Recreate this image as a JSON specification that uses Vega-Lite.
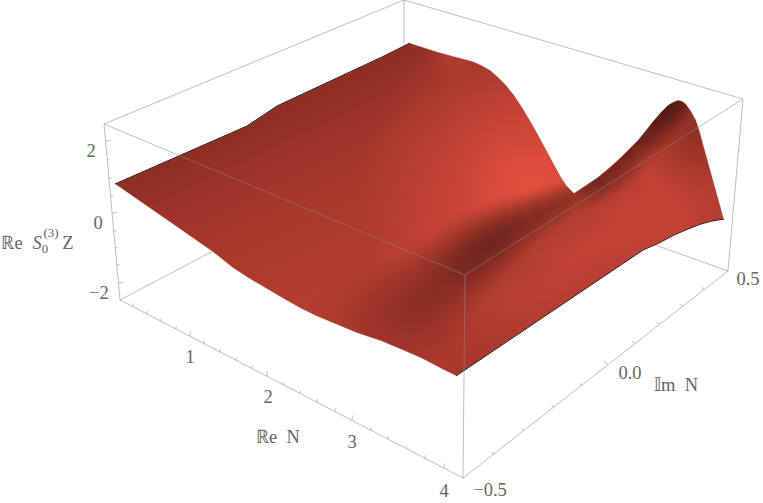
{"$schema":"https://vega.github.io/schema/vega-lite/v6.json","width":763,"height":503,"padding":0,"autosize":{"type":"none"},"background":"white","config":{"view":{"stroke":null}},
"datasets":{
"plane":[{"x":0,"x2":763,"y":0,"y2":503}],
"dark":[
{"x":545,"x2":585,"y":180,"y2":220,"w":0.28},{"x":526,"x2":574,"y":183,"y2":231,"w":0.28},{"x":508,"x2":562,"y":188,"y2":242,"w":0.28},{"x":490,"x2":550,"y":193,"y2":253,"w":0.28},{"x":471,"x2":539,"y":198,"y2":266,"w":0.28},{"x":452,"x2":528,"y":203,"y2":279,"w":0.28},{"x":433,"x2":517,"y":210,"y2":294,"w":0.28},{"x":414,"x2":506,"y":219,"y2":311,"w":0.24},{"x":395,"x2":495,"y":230,"y2":330,"w":0.18},{"x":376,"x2":484,"y":241,"y2":349,"w":0.14},{"x":354,"x2":470,"y":252,"y2":368,"w":0.1},{"x":332,"x2":452,"y":258,"y2":378,"w":0.08},{"x":310,"x2":430,"y":258,"y2":378,"w":0.06},
{"x":480,"x2":580,"y":185,"y2":285,"w":0.12},{"x":520,"x2":600,"y":180,"y2":260,"w":0.14},{"x":552,"x2":628,"y":167,"y2":243,"w":0.12},{"x":445,"x2":555,"y":200,"y2":310,"w":0.12},{"x":585,"x2":655,"y":143,"y2":213,"w":0.12},
{"x":561,"x2":609,"y":164,"y2":212,"w":0.34},{"x":572,"x2":624,"y":154,"y2":206,"w":0.36},{"x":584,"x2":640,"y":139,"y2":195,"w":0.36},{"x":598,"x2":654,"y":125,"y2":181,"w":0.4},{"x":612,"x2":668,"y":110,"y2":166,"w":0.42},{"x":624,"x2":680,"y":96,"y2":152,"w":0.45},{"x":637,"x2":689,"y":85,"y2":137,"w":0.5},{"x":649,"x2":697,"y":79,"y2":127,"w":0.4},{"x":664,"x2":704,"y":84,"y2":124,"w":0.2},{"x":630,"x2":750,"y":70,"y2":190,"w":0.25}
],
"light":[{"x":360,"x2":700,"y":15,"y2":355,"w":0.8},{"x":420,"x2":480,"y":25,"y2":85,"w":0.25},{"x":585,"x2":765,"y":135,"y2":315,"w":0.35}],
"mask":[{"i":0,"x":0,"y":184},{"i":1,"x":0,"y":0},{"i":2,"x":763,"y":0},{"i":3,"x":763,"y":503},{"i":4,"x":0,"y":503},{"i":5,"x":0,"y":184},{"i":6,"x":115,"y":184},{"i":7,"x":213,"y":252},{"i":8,"x":233,"y":268},{"i":9,"x":250,"y":279},{"i":10,"x":267,"y":289},{"i":11,"x":284,"y":299},{"i":12,"x":300,"y":308},{"i":13,"x":316,"y":316},{"i":14,"x":333,"y":323},{"i":15,"x":357,"y":333},{"i":16,"x":381,"y":341},{"i":17,"x":400,"y":349},{"i":18,"x":421,"y":358},{"i":19,"x":440,"y":368},{"i":20,"x":456,"y":376},{"i":21,"x":643,"y":250},{"i":22,"x":659,"y":243},{"i":23,"x":674,"y":235},{"i":24,"x":688,"y":229},{"i":25,"x":701,"y":224},{"i":26,"x":712,"y":221},{"i":27,"x":724,"y":219},{"i":28,"x":719,"y":201},{"i":29,"x":714,"y":183},{"i":30,"x":709,"y":165},{"i":31,"x":704,"y":147},{"i":32,"x":700,"y":132},{"i":33,"x":696,"y":120},{"i":34,"x":691,"y":111},{"i":35,"x":686,"y":104},{"i":36,"x":682,"y":101},{"i":37,"x":678,"y":100},{"i":38,"x":673,"y":102},{"i":39,"x":668,"y":105},{"i":40,"x":661,"y":112},{"i":41,"x":654,"y":120},{"i":42,"x":646,"y":130},{"i":43,"x":638,"y":140},{"i":44,"x":630,"y":148},{"i":45,"x":621,"y":157},{"i":46,"x":610,"y":167},{"i":47,"x":598,"y":177},{"i":48,"x":586,"y":185},{"i":49,"x":574,"y":193},{"i":50,"x":567,"y":186},{"i":51,"x":561,"y":177},{"i":52,"x":555,"y":166},{"i":53,"x":548,"y":153},{"i":54,"x":540,"y":138},{"i":55,"x":531,"y":122},{"i":56,"x":522,"y":107},{"i":57,"x":514,"y":95},{"i":58,"x":506,"y":85},{"i":59,"x":498,"y":77},{"i":60,"x":490,"y":70},{"i":61,"x":481,"y":65},{"i":62,"x":472,"y":61},{"i":63,"x":464,"y":59},{"i":64,"x":438,"y":52},{"i":65,"x":410,"y":43},{"i":66,"x":382,"y":57},{"i":67,"x":277,"y":106},{"i":68,"x":262,"y":116},{"i":69,"x":247,"y":126},{"i":70,"x":115,"y":184},{"i":71,"x":0,"y":184}],
"edgeA":[{"i":0,"x":115,"y":184},{"i":1,"x":247,"y":126},{"i":2,"x":262,"y":116},{"i":3,"x":277,"y":106},{"i":4,"x":382,"y":57},{"i":5,"x":410,"y":43}],
"edgeB":[{"i":0,"x":456,"y":376},{"i":1,"x":643,"y":250},{"i":2,"x":659,"y":243},{"i":3,"x":674,"y":235},{"i":4,"x":688,"y":229},{"i":5,"x":701,"y":224},{"i":6,"x":712,"y":221},{"i":7,"x":724,"y":219}],
"box":[{"x":104,"y":124,"x2":404,"y2":0},{"x":404,"y":0,"x2":743,"y2":99},{"x":104,"y":124,"x2":465,"y2":275},{"x":465,"y":275,"x2":743,"y2":99},{"x":465,"y":275,"x2":463,"y2":478},{"x":104,"y":124,"x2":120,"y2":300},{"x":120,"y":300,"x2":463,"y2":478},{"x":463,"y":478,"x2":728,"y2":271},{"x":743,"y":99,"x2":728,"y2":271},{"x":120,"y":300,"x2":213,"y2":251},{"x":728,"y":271,"x2":655,"y2":245},{"x":404,"y":0,"x2":404,"y2":44}],
"ticks":[{"x":105.5,"y":141,"x2":110.5,"y2":140.5},{"x":107.3,"y":160,"x2":110.3,"y2":159.7},{"x":108.9,"y":178,"x2":111.9,"y2":177.7},{"x":110.5,"y":196,"x2":113.5,"y2":195.7},{"x":112.1,"y":213,"x2":117.1,"y2":212.5},{"x":113.7,"y":231,"x2":116.7,"y2":230.7},{"x":115.3,"y":248,"x2":118.3,"y2":247.7},{"x":116.8,"y":265,"x2":119.8,"y2":264.7},{"x":118.5,"y":283,"x2":123.5,"y2":282.5},
{"x":133,"y":306.7,"x2":133.3,"y2":303.7},{"x":147,"y":314,"x2":147.3,"y2":311},{"x":161,"y":321.3,"x2":161.3,"y2":318.3},{"x":176,"y":329,"x2":176.3,"y2":326},{"x":190,"y":336.3,"x2":190.4,"y2":331.3},{"x":204,"y":343.6,"x2":204.3,"y2":340.6},{"x":220,"y":351.9,"x2":220.3,"y2":348.9},{"x":236,"y":360.2,"x2":236.3,"y2":357.2},{"x":252,"y":368.5,"x2":252.3,"y2":365.5},{"x":267,"y":376.3,"x2":267.4,"y2":371.3},{"x":283,"y":384.6,"x2":283.3,"y2":381.6},{"x":300,"y":393.4,"x2":300.3,"y2":390.4},{"x":317,"y":402.2,"x2":317.3,"y2":399.2},{"x":335,"y":411.6,"x2":335.3,"y2":408.6},{"x":352,"y":420.4,"x2":352.4,"y2":415.4},{"x":371,"y":430.3,"x2":371.3,"y2":427.3},{"x":388,"y":439.1,"x2":388.3,"y2":436.1},{"x":406,"y":448.4,"x2":406.3,"y2":445.4},{"x":425,"y":458.3,"x2":425.3,"y2":455.3},{"x":444,"y":468.2,"x2":444.4,"y2":463.2},
{"x":494,"y":454,"x2":491.5,"y2":452.5},{"x":524,"y":430,"x2":521.5,"y2":428.5},{"x":554,"y":407,"x2":551.5,"y2":405.5},{"x":582,"y":385,"x2":579.5,"y2":383.5},{"x":608,"y":364,"x2":604,"y2":361.5},{"x":635,"y":343,"x2":632.5,"y2":341.5},{"x":659,"y":324,"x2":656.5,"y2":322.5},{"x":683,"y":306,"x2":680.5,"y2":304.5},{"x":704,"y":289,"x2":701.5,"y2":287.5}],
"labels":[{"x":91,"y":151,"t":"2"},{"x":98,"y":223,"t":"0"},{"x":99,"y":293,"t":"−2"},{"x":190,"y":357,"t":"1"},{"x":268,"y":397,"t":"2"},{"x":352,"y":442,"t":"3"},{"x":444,"y":491,"t":"4"},{"x":490,"y":490,"t":"−0.5"},{"x":630,"y":373,"t":"0.0"},{"x":748,"y":279,"t":"0.5"},{"x":278,"y":437,"t":"ℝe\u00a0\u00a0N"},{"x":676,"y":385,"t":"𝕀m\u00a0\u00a0N"},{"x":12,"y":243,"t":"ℝe"},{"x":68,"y":243,"t":"Z"}],
"small":[{"x":45,"y":249,"t":"0"},{"x":51,"y":233,"t":"(3)"}],
"ital":[{"x":37,"y":243,"t":"S"}]
},
"encoding":{"x":{"field":"x","type":"quantitative","axis":null,"scale":{"domain":[0,763],"range":[0,763],"nice":false,"zero":false}},"y":{"field":"y","type":"quantitative","axis":null,"scale":{"domain":[0,503],"range":[0,503],"nice":false,"zero":false}}},
"layer":[
{"data":{"name":"plane"},"mark":{"type":"rect","fill":{"gradient":"linear","x1":0,"y1":0,"x2":0.617,"y2":0.85,"stops":[{"offset":0.36,"color":"#8c2d25"},{"offset":0.5,"color":"#a5362c"},{"offset":0.68,"color":"#b53c30"},{"offset":0.8,"color":"#ad392e"},{"offset":0.95,"color":"#a8372d"}]}},"encoding":{"x2":{"field":"x2"},"y2":{"field":"y2"}}},
{"data":{"name":"light"},"mark":{"type":"rect","fill":{"gradient":"radial","x1":0.5,"y1":0.5,"x2":0.5,"y2":0.5,"r1":0,"r2":0.5,"stops":[{"offset":0,"color":"rgba(240,85,65,1)"},{"offset":0.5,"color":"rgba(240,85,65,0.4)"},{"offset":1,"color":"rgba(240,85,65,0)"}]}},"encoding":{"x2":{"field":"x2"},"y2":{"field":"y2"},"opacity":{"field":"w","type":"quantitative","legend":null,"scale":{"domain":[0,1],"range":[0,1]}}}},
{"data":{"name":"dark"},"mark":{"type":"rect","fill":{"gradient":"radial","x1":0.5,"y1":0.5,"x2":0.5,"y2":0.5,"r1":0,"r2":0.5,"stops":[{"offset":0,"color":"rgba(35,10,8,1)"},{"offset":0.5,"color":"rgba(35,10,8,0.5)"},{"offset":1,"color":"rgba(35,10,8,0)"}]}},"encoding":{"x2":{"field":"x2"},"y2":{"field":"y2"},"opacity":{"field":"w","type":"quantitative","legend":null,"scale":{"domain":[0,1],"range":[0,1]}}}},
{"data":{"name":"mask"},"mark":{"type":"line","fill":"white","stroke":"white","strokeWidth":0.5},"encoding":{"order":{"field":"i"}}},
{"data":{"name":"edgeA"},"mark":{"type":"line","stroke":"#2a1412","strokeWidth":1},"encoding":{"order":{"field":"i"}}},
{"data":{"name":"edgeB"},"mark":{"type":"line","stroke":"#2a1412","strokeWidth":1},"encoding":{"order":{"field":"i"}}},
{"data":{"name":"box"},"mark":{"type":"rule","stroke":"#888888","strokeWidth":1,"opacity":0.55},"encoding":{"x2":{"field":"x2"},"y2":{"field":"y2"}}},
{"data":{"name":"ticks"},"mark":{"type":"rule","stroke":"#888888","strokeWidth":1,"opacity":0.55},"encoding":{"x2":{"field":"x2"},"y2":{"field":"y2"}}},
{"data":{"name":"labels"},"mark":{"type":"text","font":"Liberation Serif","fontSize":18.5,"fill":"#666666","align":"center","baseline":"middle"},"encoding":{"text":{"field":"t"}}},
{"data":{"name":"small"},"mark":{"type":"text","font":"Liberation Serif","fontSize":13,"fill":"#666666","align":"center","baseline":"middle"},"encoding":{"text":{"field":"t"}}},
{"data":{"name":"ital"},"mark":{"type":"text","font":"Liberation Serif","fontStyle":"italic","fontSize":18.5,"fill":"#666666","align":"center","baseline":"middle"},"encoding":{"text":{"field":"t"}}}
]}
